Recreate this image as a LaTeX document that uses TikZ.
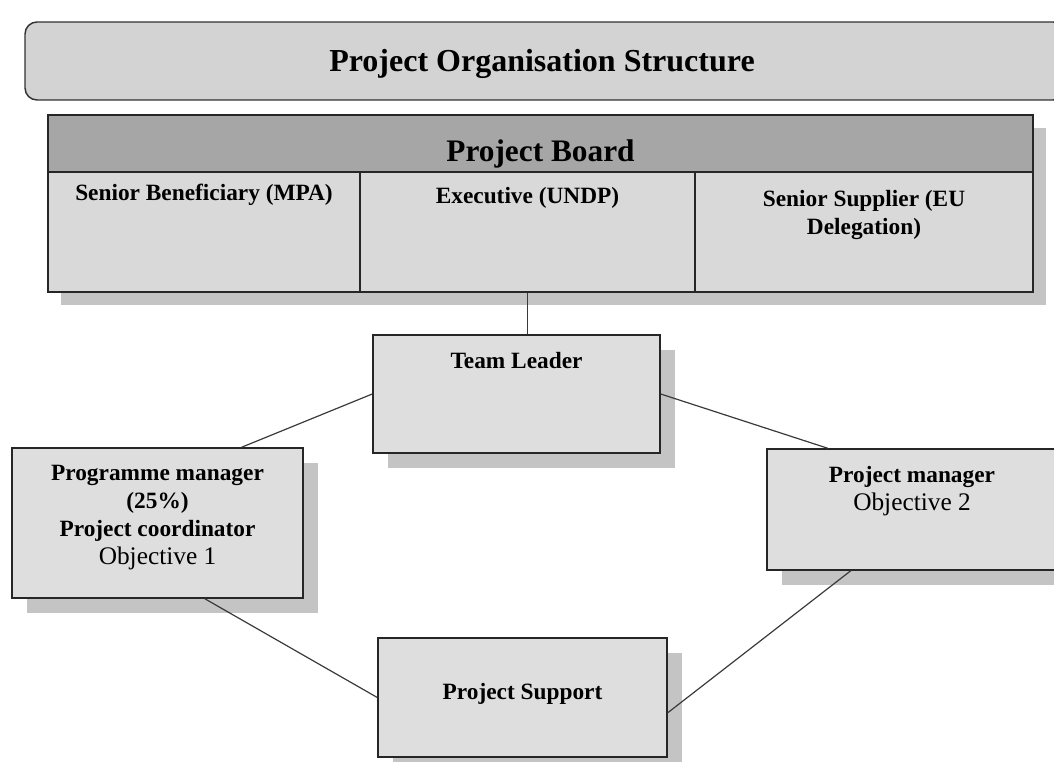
\documentclass[tikz,border=0pt]{standalone}
\usepackage{fontspec}
\setmainfont{Liberation Serif}
\usetikzlibrary{positioning,shadows}

\definecolor{titlegray}{HTML}{D3D3D3}
\definecolor{headgray}{HTML}{A6A6A6}
\definecolor{cellgray}{HTML}{D9D9D9}
\definecolor{boxgray}{HTML}{DEDEDE}
\definecolor{shadegray}{HTML}{C4C4C4}
\definecolor{linegray}{HTML}{3A3A3A}

\tikzset{
  backdrop/.style={general shadow={fill=shadegray, draw=none, shadow xshift=#1, shadow yshift=-#1}},
  backdrop/.default=11pt,
  cell/.style={draw=black!85, line width=1.1pt, fill=cellgray, inner sep=0pt},
  unit/.style={cell, fill=boxgray, backdrop},
  lbl/.style={inner sep=0pt, align=center, font=\fontsize{17.5}{21}\selectfont\bfseries},
  link/.style={draw=linegray, line width=0.9pt},
}

\begin{document}
\begin{tikzpicture}[x=0.75pt,y=-0.75pt]
  \useasboundingbox (0,0) rectangle (1054,762);
  \clip (0,0) rectangle (1054,762);

  % heading bar, runs off the right edge
  \node[draw=black!80, line width=1.1pt, fill=titlegray, rounded corners=9pt,
        minimum width=780pt, minimum height=58.5pt] (title) at (545,61) {};
  \node[inner sep=0pt, font=\fontsize{24}{28}\selectfont\bfseries] (titletxt) at (542,64) {Project Organisation Structure};

  % project board with its three seats
  \node[cell, minimum width=738.75pt, minimum height=132.75pt, backdrop=10pt] (board) at (540.5,203.5) {};
  \node[cell, fill=headgray, minimum width=738.75pt, minimum height=42.75pt] (boardhead) at (540.5,143.5) {};
  \node[inner sep=0pt, font=\fontsize{23.5}{28}\selectfont\bfseries, below=19pt of boardhead.north] (boardtxt) {Project Board};

  \node[cell, minimum width=234pt, minimum height=90pt] (benef) at (204,232) {};
  \node[cell, minimum width=251.25pt, minimum height=90pt] (exec) at (527.5,232) {};
  \node[cell, minimum width=253.5pt, minimum height=90pt] (supp) at (864,232) {};
  \node[lbl, below=9.5pt of benef.north] (beneftxt) {Senior Beneficiary (MPA)};
  \node[lbl, below=11.5pt of exec.north] (exectxt) {Executive (UNDP)};
  \node[lbl, below=14pt of supp.north] (supptxt) {Senior Supplier (EU\\Delegation)};

  % team boxes
  \node[unit, minimum width=215.25pt, minimum height=88.5pt] (leader) at (516.5,394) {};
  \node[lbl, below=13.5pt of leader.north] (leadertxt) {Team Leader};

  \node[unit, minimum width=218.25pt, minimum height=112.5pt] (prog) at (157.5,523) {};
  \node[lbl, below=13pt of prog.north] (progtxt) {Programme manager\\(25\%)\\Project coordinator\\\mdseries\fontsize{19}{21.5}\selectfont Objective 1};

  \node[unit, minimum width=217.5pt, minimum height=90.75pt] (pmgr) at (912,509.5) {};
  \node[lbl, below=13.5pt of pmgr.north] (pmgrtxt) {Project manager\\\mdseries\fontsize{19}{22}\selectfont Objective 2};

  \node[unit, minimum width=216.75pt, minimum height=89.25pt] (support) at (522.5,697.5) {};
  \node[lbl, below=34pt of support.north] (supporttxt) {Project Support};

  % reporting lines
  \draw[link] (exec.south) -- (exec.south |- leader.north);
  \draw[link] (leader.west) -- (prog.42);
  \draw[link] (leader.east) -- (pmgr.144);
  \draw[link] (prog.302) -- (support.west);
  \draw[link] (pmgr.225) -- (support.354);
\end{tikzpicture}
\end{document}
